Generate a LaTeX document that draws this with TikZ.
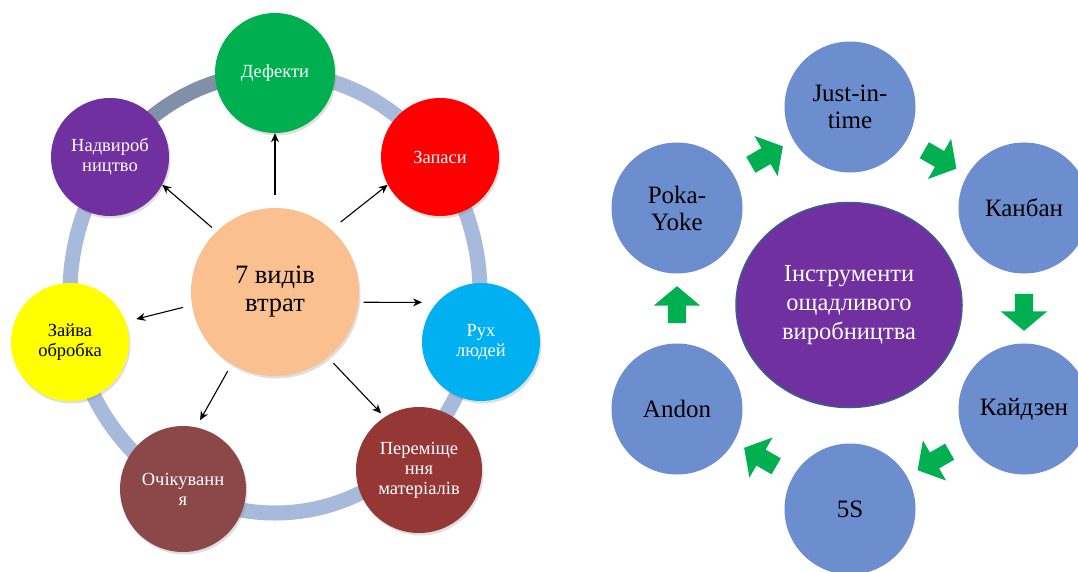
\documentclass[tikz,border=0pt]{standalone}
\usepackage{fontspec}
\setmainfont{Liberation Serif}
\usetikzlibrary{calc,shadows,shapes.geometric,shapes.arrows,arrows.meta}

\definecolor{wgreen}{HTML}{00B050}
\definecolor{wpurple}{HTML}{7030A0}
\definecolor{wred}{HTML}{FF0000}
\definecolor{wyellow}{HTML}{FFFF00}
\definecolor{wcyan}{HTML}{00B0F0}
\definecolor{wbrown}{HTML}{8C4848}
\definecolor{wdarkred}{HTML}{953735}
\definecolor{wpeach}{HTML}{FAC090}
\definecolor{ringblue}{HTML}{A7BADB}
\definecolor{ringdark}{HTML}{8090A8}
\definecolor{toolblue}{HTML}{6C8ECF}
\definecolor{flowgreen}{HTML}{00B050}
\definecolor{leanborder}{HTML}{3A5F8C}

\tikzset{
  waste/.style={circle, minimum size=118pt, inner sep=0pt, align=center, text=white,
    font=\fontsize{18.5}{20}\selectfont,
    drop shadow={opacity=0.25, shadow xshift=1.5pt, shadow yshift=-2.5pt}},
  tool/.style={circle, fill=toolblue, minimum size=131pt, inner sep=0pt, align=center,
    font=\fontsize{25}{27}\selectfont},
  ring/.style={line width=15pt, draw=ringblue},
  wastearrow/.style={-{Stealth[length=9pt, width=8pt]}, line width=1.1pt},
  flow/.style={single arrow, fill=flowgreen, minimum height=37pt, inner xsep=0pt, inner ysep=9pt,
    single arrow head extend=14pt, single arrow tip angle=100, single arrow head indent=0pt}
}

\begin{document}
\begin{tikzpicture}[x=1pt, y=-1pt]
\useasboundingbox (0,0) rectangle (1078,571);

% ring behind the seven wastes
\coordinate (hub) at (275,293);
\draw[ring] (hub) ellipse [x radius=205pt, y radius=220pt];
\draw[ring, draw=ringdark] ([shift={(95:205pt and 220pt)}]hub) arc [start angle=95, end angle=137, x radius=205pt, y radius=220pt];

% seven wastes
\node[waste, fill=wgreen, minimum size=120pt] (defects) at (275,73) {Дефекти};
\node[waste, fill=wpurple] (overprod) at (110,157) {Надвироб\\ництво};
\node[waste, fill=wred] (stock) at (440,157) {Запаси};
\node[waste, fill=wyellow, text=black] (processing) at (70,342) {Зайва\\обробка};
\node[waste, fill=wcyan] (motion) at (481,342) {Рух\\людей};
\node[waste, fill=wbrown, minimum size=126pt] (waiting) at (183,489) {Очікуванн\\я};
\node[waste, fill=wdarkred, minimum size=126pt] (transport) at (419,470) {Переміще\\ння\\матеріалів};
\node[waste, fill=wpeach, text=black, minimum size=168pt, font=\fontsize{26.5}{28}\selectfont] (wastes) at (275,292) {7 видів\\втрат};

\draw[wastearrow, shorten <=13pt] (wastes.90) -- (defects.270);
\draw[wastearrow, shorten <=6pt] (wastes.134) -- (overprod.-28);
\draw[wastearrow, shorten <=12pt] (wastes.48) -- (stock.208);
\draw[wastearrow, shorten <=9pt, shorten >=11pt] (wastes.189) -- (processing.20);
\draw[wastearrow, shorten <=5pt, shorten >=15pt] (wastes.-7) -- (motion.138);
\draw[wastearrow, shorten <=8pt, shorten >=8pt] (wastes.239) -- (waiting.78);
\draw[wastearrow, shorten <=8pt, shorten >=5pt] (wastes.-51) -- (transport.123);

% lean tools cycle
\node[tool] (jit) at (850,107) {Just-in-\\time};
\node[tool] (kanban) at (1024,208) {Канбан};
\node[tool] (kaizen) at (1024,409) {Кайдзен};
\node[tool] (fives) at (850,509) {5S};
\node[tool] (andon) at (677,409) {Andon};
\node[tool] (poka) at (677,208) {Poka-\\Yoke};
\node[ellipse, fill=wpurple, draw=leanborder, line width=1.5pt, minimum width=226pt, minimum height=205pt,
  text=white, align=center, font=\fontsize{24.5}{29}\selectfont] (lean) at (849,305) {Інструменти\\ощадливого\\виробництва};

\node[flow, rotate=30] (f1) at ($(poka)!0.5!(jit)$) {};
\node[flow, rotate=-30] (f2) at ($(jit)!0.5!(kanban)$) {};
\node[flow, rotate=-90] (f3) at ($(kanban)!0.5!(kaizen)$) {};
\node[flow, rotate=-150] (f4) at ($(kaizen)!0.5!(fives)$) {};
\node[flow, rotate=150] (f5) at ($(fives)!0.5!(andon)$) {};
\node[flow, rotate=90] (f6) at ($(andon)!0.5!(poka)$) {};
\end{tikzpicture}
\end{document}
